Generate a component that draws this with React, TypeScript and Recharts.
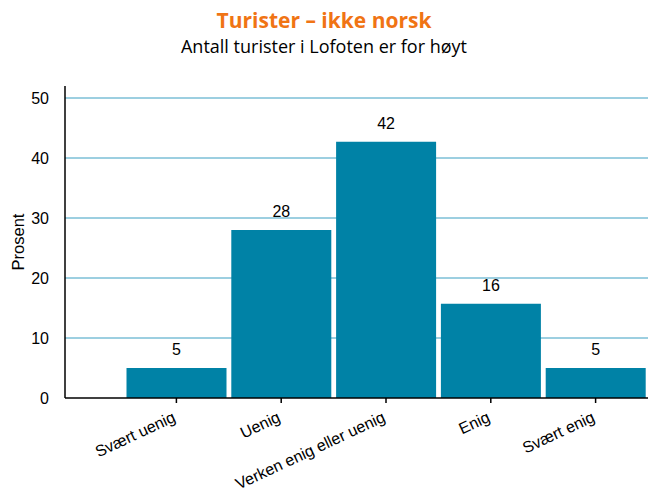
import React from 'react';
import { BarChart, Bar, XAxis, YAxis, CartesianGrid, LabelList } from 'recharts';

const categories = ['Svært uenig', 'Uenig', 'Verken enig eller uenig', 'Enig', 'Svært enig'];
const values = [5, 28, 42.7, 15.7, 5];
const valueLabels = ['5', '28', '42', '16', '5'];
const yTicks = [0, 10, 20, 30, 40, 50];

const data = categories.map((c, i) => ({ name: c, value: values[i], label: valueLabels[i] }));

const AngledTick = (props: any) => {
  const { x, y, payload } = props;
  return (
    <g transform={`translate(${x - 4},${y + 7})`}>
      <text
        x={0}
        y={0}
        dy={10}
        textAnchor="end"
        transform="rotate(-25)"
        fontFamily="'Liberation Sans', Arial, sans-serif"
        fontSize={16}
        fill="#000"
      >
        {payload.value}
      </text>
    </g>
  );
};

export default function App() {
  return (
    <div style={{ position: 'absolute', left: 0, top: 0, width: 648, height: 500, background: '#fff' }}>
      <div
        style={{
          position: 'absolute',
          left: 0,
          top: 10,
          width: 648,
          textAlign: 'center',
          fontFamily: "'Open Sans', sans-serif",
          fontWeight: 700,
          fontSize: 21,
          lineHeight: '21px',
          color: '#f07414',
          whiteSpace: 'nowrap',
        }}
      >
        Turister – ikke norsk
      </div>
      <div
        style={{
          position: 'absolute',
          left: 0,
          top: 37,
          width: 648,
          textAlign: 'center',
          fontFamily: "'Open Sans', sans-serif",
          fontSize: 18,
          lineHeight: '18px',
          color: '#000',
          whiteSpace: 'nowrap',
        }}
      >
        Antall turister i Lofoten er for høyt
      </div>
      <BarChart
        width={648}
        height={500}
        data={data}
        margin={{ top: 86, right: 0, bottom: 12, left: 15 }}
        barCategoryGap={2.5}
      >
        <CartesianGrid vertical={false} stroke="#3a9fc2" strokeWidth={1} horizontalValues={[10, 20, 30, 40, 50]} />
        <XAxis
          dataKey="name"
          height={90}
          padding={{ left: 59, right: 0 }}
          tick={<AngledTick />}
          tickLine={{ stroke: '#000', strokeWidth: 1.5 }}
          tickSize={5}
          axisLine={{ stroke: '#000', strokeWidth: 1.5 }}
          interval={0}
        />
        <YAxis
          width={50}
          domain={[0, 52]}
          ticks={yTicks}
          tickLine={false}
          axisLine={{ stroke: '#000', strokeWidth: 1.5 }}
          tick={{ fontFamily: "'Liberation Sans', Arial, sans-serif", fontSize: 16, fill: '#000' }}
          tickMargin={10}
          label={{
            value: 'Prosent',
            angle: -90,
            position: 'insideLeft',
            dx: -2,
            style: { fontFamily: "'Liberation Sans', Arial, sans-serif", fontSize: 16.5, fill: '#000', textAnchor: 'middle' },
          }}
        />
        <Bar dataKey="value" fill="#0082a6" isAnimationActive={false}>
          <LabelList
            dataKey="label"
            position="top"
            offset={13}
            style={{ fontFamily: "'Liberation Sans', Arial, sans-serif", fontSize: 16, fill: '#000' }}
          />
        </Bar>
      </BarChart>
    </div>
  );
}
